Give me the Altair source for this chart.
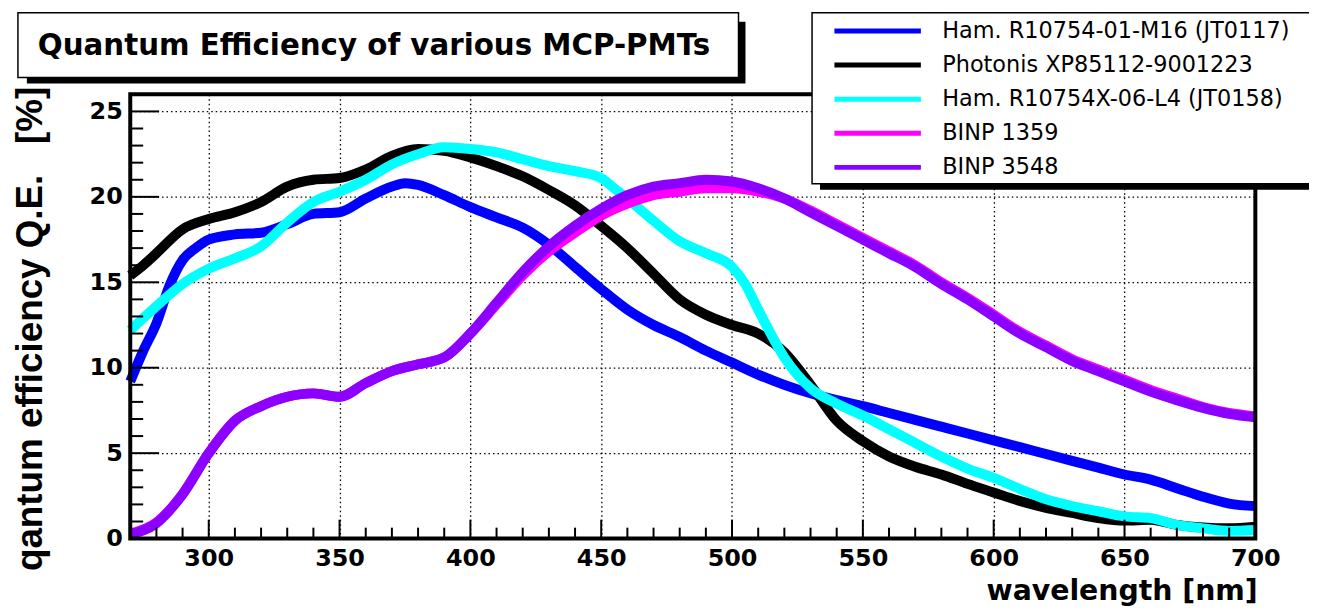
import altair as alt
import pandas as pd

# ---------------- data ----------------
NAMES = [
    "Ham. R10754-01-M16 (JT0117)",
    "Photonis XP85112-9001223",
    "Ham. R10754X-06-L4 (JT0158)",
    "BINP 1359",
    "BINP 3548",
]
COLORS = ["#0000ff", "#000000", "#00ffff", "#ff00ff", "#8c00ff"]

blue_wl = [270, 275, 280, 285, 290, 295, 300, 310, 320, 330, 340, 350, 360, 370, 375, 380, 390, 400,
           410, 420, 430, 440, 450, 460, 470, 480, 490, 500, 510, 520, 530, 540, 550, 560, 570, 580,
           590, 600, 610, 620, 630, 640, 650, 660, 670, 680, 690, 700]
blue_qe = [9.2, 11.0, 12.6, 14.8, 16.3, 17.0, 17.5, 17.8, 17.9, 18.4, 19.0, 19.1, 19.9, 20.6, 20.8, 20.7, 20.1, 19.4,
           18.8, 18.2, 17.2, 15.9, 14.6, 13.4, 12.5, 11.8, 11.0, 10.3, 9.6, 9.0, 8.5, 8.1, 7.75, 7.35, 6.95, 6.55,
           6.15, 5.75, 5.35, 4.95, 4.55, 4.15, 3.75, 3.45, 2.95, 2.45, 2.05, 1.9]

black_wl = [270, 275, 280, 290, 300, 310, 320, 330, 340, 350, 360, 370, 380, 390, 400, 410, 420, 430,
            440, 450, 460, 470, 480, 490, 500, 510, 520, 530, 540, 550, 560, 570, 580, 590, 600, 610,
            620, 630, 640, 650, 660, 670, 680, 690, 700]
black_qe = [15.4, 16.0, 16.7, 18.1, 18.7, 19.1, 19.7, 20.6, 21.0, 21.1, 21.6, 22.4, 22.8, 22.7, 22.3, 21.8, 21.2, 20.4,
            19.5, 18.3, 17.0, 15.5, 14.0, 13.1, 12.5, 12.0, 10.9, 9.0, 6.9, 5.7, 4.8, 4.2, 3.75, 3.2, 2.7, 2.2,
            1.8, 1.5, 1.2, 1.05, 1.1, 0.8, 0.65, 0.6, 0.7]

cyan_wl = [270, 280, 290, 300, 310, 320, 330, 340, 350, 360, 370, 380, 390, 400, 410, 420, 430, 440,
           450, 455, 460, 470, 480, 490, 500, 505, 510, 520, 530, 540, 550, 560, 570, 580, 590, 600,
           610, 620, 630, 640, 650, 660, 670, 680, 690, 700]
cyan_qe = [12.2, 13.6, 14.9, 15.8, 16.4, 17.1, 18.5, 19.7, 20.3, 21.0, 21.9, 22.5, 22.9, 22.8, 22.6, 22.2, 21.8, 21.5,
           21.1, 20.5, 19.9, 18.6, 17.4, 16.7, 15.9, 14.9, 13.4, 10.6, 8.8, 7.9, 7.2, 6.4, 5.6, 4.8, 4.1, 3.55,
           2.9, 2.3, 1.9, 1.6, 1.3, 1.2, 0.8, 0.6, 0.45, 0.5]

binp_wl = [270, 280, 290, 300, 310, 320, 330, 340, 350, 360, 370, 380, 390, 400, 410, 420, 430, 440,
           450, 460, 470, 480, 490, 500, 510, 520, 530, 540, 550, 560, 570, 580, 590, 600, 610, 620,
           630, 640, 650, 660, 670, 680, 690, 700]
magenta_qe = [0.3, 0.95, 2.6, 5.0, 6.9, 7.75, 8.3, 8.5, 8.3, 9.1, 9.8, 10.2, 10.6, 12.0, 13.7, 15.4, 16.8, 17.9,
              18.9, 19.6, 20.1, 20.3, 20.5, 20.5, 20.3, 19.9, 19.2, 18.4, 17.6, 16.8, 16.0, 15.0, 14.1, 13.1, 12.1, 11.3,
              10.5, 9.9, 9.3, 8.7, 8.2, 7.7, 7.35, 7.15]
purple_qe = [0.25, 0.9, 2.6, 5.0, 6.9, 7.75, 8.3, 8.5, 8.3, 9.1, 9.8, 10.2, 10.6, 12.0, 13.8, 15.6, 17.1, 18.3,
             19.3, 20.1, 20.6, 20.8, 21.0, 20.9, 20.5, 19.9, 19.1, 18.3, 17.5, 16.7, 15.9, 14.9, 14.0, 13.0, 12.0, 11.2,
             10.4, 9.8, 9.2, 8.6, 8.1, 7.65, 7.3, 7.1]

XMAJ = list(range(300, 701, 50))
XMIN = [v for v in range(280, 700, 10) if v % 50]
YMAJ = list(range(0, 26, 5))
YMIN = [v for v in range(1, 26) if v % 5]

TITLE = "Quantum Efficiency of various MCP-PMTs"
XTITLE = "wavelength [nm]"
YTITLE = "qantum efficiency Q.E.\u00a0\u00a0\u00a0[%]"

# ---------------- build table ----------------
rows = []
for name, wl, qe in [
    (NAMES[0], blue_wl, blue_qe),
    (NAMES[1], black_wl, black_qe),
    (NAMES[2], cyan_wl, cyan_qe),
    (NAMES[3], binp_wl, magenta_qe),
    (NAMES[4], binp_wl, purple_qe),
]:
    for w, q in zip(wl, qe):
        rows.append({"series": name, "wl": w, "qe": q})
df = pd.DataFrame(rows)

W, H = 1132, 447
XS = alt.Scale(domain=[270, 700], nice=False, zero=False)
YS = alt.Scale(domain=[0, 26], nice=False, zero=False)

x_axis = alt.Axis(
    values=XMAJ, title=XTITLE, grid=True, gridColor="black", gridDash=[1.5, 3], gridWidth=1.3,
    gridOpacity=1, ticks=False, tickSize=0, domain=False, labelFont="DejaVu Sans",
    labelFontWeight="bold", labelFontSize=24, labelColor="black", labelPadding=8,
    labelFlush=False, labelOverlap=False, titleFont="DejaVu Sans", titleFontWeight="bold",
    titleFontSize=28.5, titleColor="black", titleAnchor="end", titleAlign="right",
    titleBaseline="alphabetic", titleX=W + 2, titleY=61,
)
y_axis = alt.Axis(
    values=YMAJ, title=YTITLE, grid=True, gridColor="black", gridDash=[1.5, 3], gridWidth=1.3,
    gridOpacity=1, ticks=False, tickSize=0, domain=False, labelFont="DejaVu Sans",
    labelFontWeight="bold", labelFontSize=24, labelColor="black", labelPadding=8,
    labelFlush=False, labelOverlap=False, titleFont="Liberation Sans", titleFontWeight="bold",
    titleFontSize=37, titleColor="black", titleAngle=270, titleAnchor="end", titleAlign="right",
    titleBaseline="alphabetic", titleX=-89, titleY=-8,
)

legend = alt.Legend(
    title=None, orient="none", legendX=706, legendY=-75.7, symbolType="stroke",
    symbolSize=7569, symbolStrokeWidth=5, labelFont="DejaVu Sans", labelFontSize=22.5,
    labelColor="black", labelOffset=19, rowPadding=10.3, clipHeight=24, padding=0,
    labelLimit=600, direction="vertical",
)

lines = alt.Chart(df).mark_line(
    interpolate="monotone", strokeCap="butt", strokeJoin="round", strokeWidth=10
).encode(
    x=alt.X("wl:Q", scale=XS, axis=x_axis),
    y=alt.Y("qe:Q", scale=YS, axis=y_axis),
    color=alt.Color("series:N", scale=alt.Scale(domain=NAMES, range=COLORS), legend=legend),
    order=alt.Order("wl:Q"),
)

xmin_t = alt.Chart(pd.DataFrame({"wl": XMIN})).mark_rule(color="black", strokeWidth=2).encode(
    x=alt.X("wl:Q", scale=XS, axis=x_axis), y=alt.value(H), y2=alt.value(H - 11))
xmaj_t = alt.Chart(pd.DataFrame({"wl": XMAJ})).mark_rule(color="black", strokeWidth=2).encode(
    x=alt.X("wl:Q", scale=XS, axis=x_axis), y=alt.value(H), y2=alt.value(H - 19))
ymin_t = alt.Chart(pd.DataFrame({"qe": YMIN})).mark_rule(color="black", strokeWidth=2).encode(
    y=alt.Y("qe:Q", scale=YS, axis=y_axis), x=alt.value(0), x2=alt.value(13))
ymaj_t = alt.Chart(pd.DataFrame({"qe": YMAJ})).mark_rule(color="black", strokeWidth=2).encode(
    y=alt.Y("qe:Q", scale=YS, axis=y_axis), x=alt.value(0), x2=alt.value(29))

one = pd.DataFrame({"k": [0]})
frame = alt.Chart(one).mark_rect(fillOpacity=0, stroke="black", strokeWidth=4).encode(
    x=alt.value(0), x2=alt.value(W), y=alt.value(0), y2=alt.value(H))

leg_shadow = alt.Chart(one).mark_rect(fill="black").encode(
    x=alt.value(694), x2=alt.value(1220), y=alt.value(88), y2=alt.value(96))
leg_box = alt.Chart(one).mark_rect(fill="white", stroke="black", strokeWidth=1.5).encode(
    x=alt.value(686), x2=alt.value(1220), y=alt.value(-82), y2=alt.value(90))

t_shadow = alt.Chart(one).mark_rect(fill="black").encode(
    x=alt.value(-104), x2=alt.value(619), y=alt.value(-73), y2=alt.value(-11))
t_box = alt.Chart(one).mark_rect(fill="white", stroke="black", strokeWidth=1.5).encode(
    x=alt.value(-113), x2=alt.value(612), y=alt.value(-82), y2=alt.value(-17))
t_text = alt.Chart(one).mark_text(
    text=TITLE, font="DejaVu Sans", fontWeight="bold", fontSize=29.5, color="black",
    align="left", baseline="alphabetic").encode(x=alt.value(-93), y=alt.value(-40))

chart = alt.layer(
    lines, xmin_t, xmaj_t, ymin_t, ymaj_t, frame, leg_shadow, leg_box, t_shadow, t_box, t_text
).properties(
    width=W, height=H,
    padding={"left": 123, "top": 85, "right": 54, "bottom": 71},
    autosize=alt.AutoSizeParams(type="none"),
    background="white",
).configure_view(strokeWidth=0)

chart.save("out.html", embed_options={"renderer": "svg", "actions": False})
